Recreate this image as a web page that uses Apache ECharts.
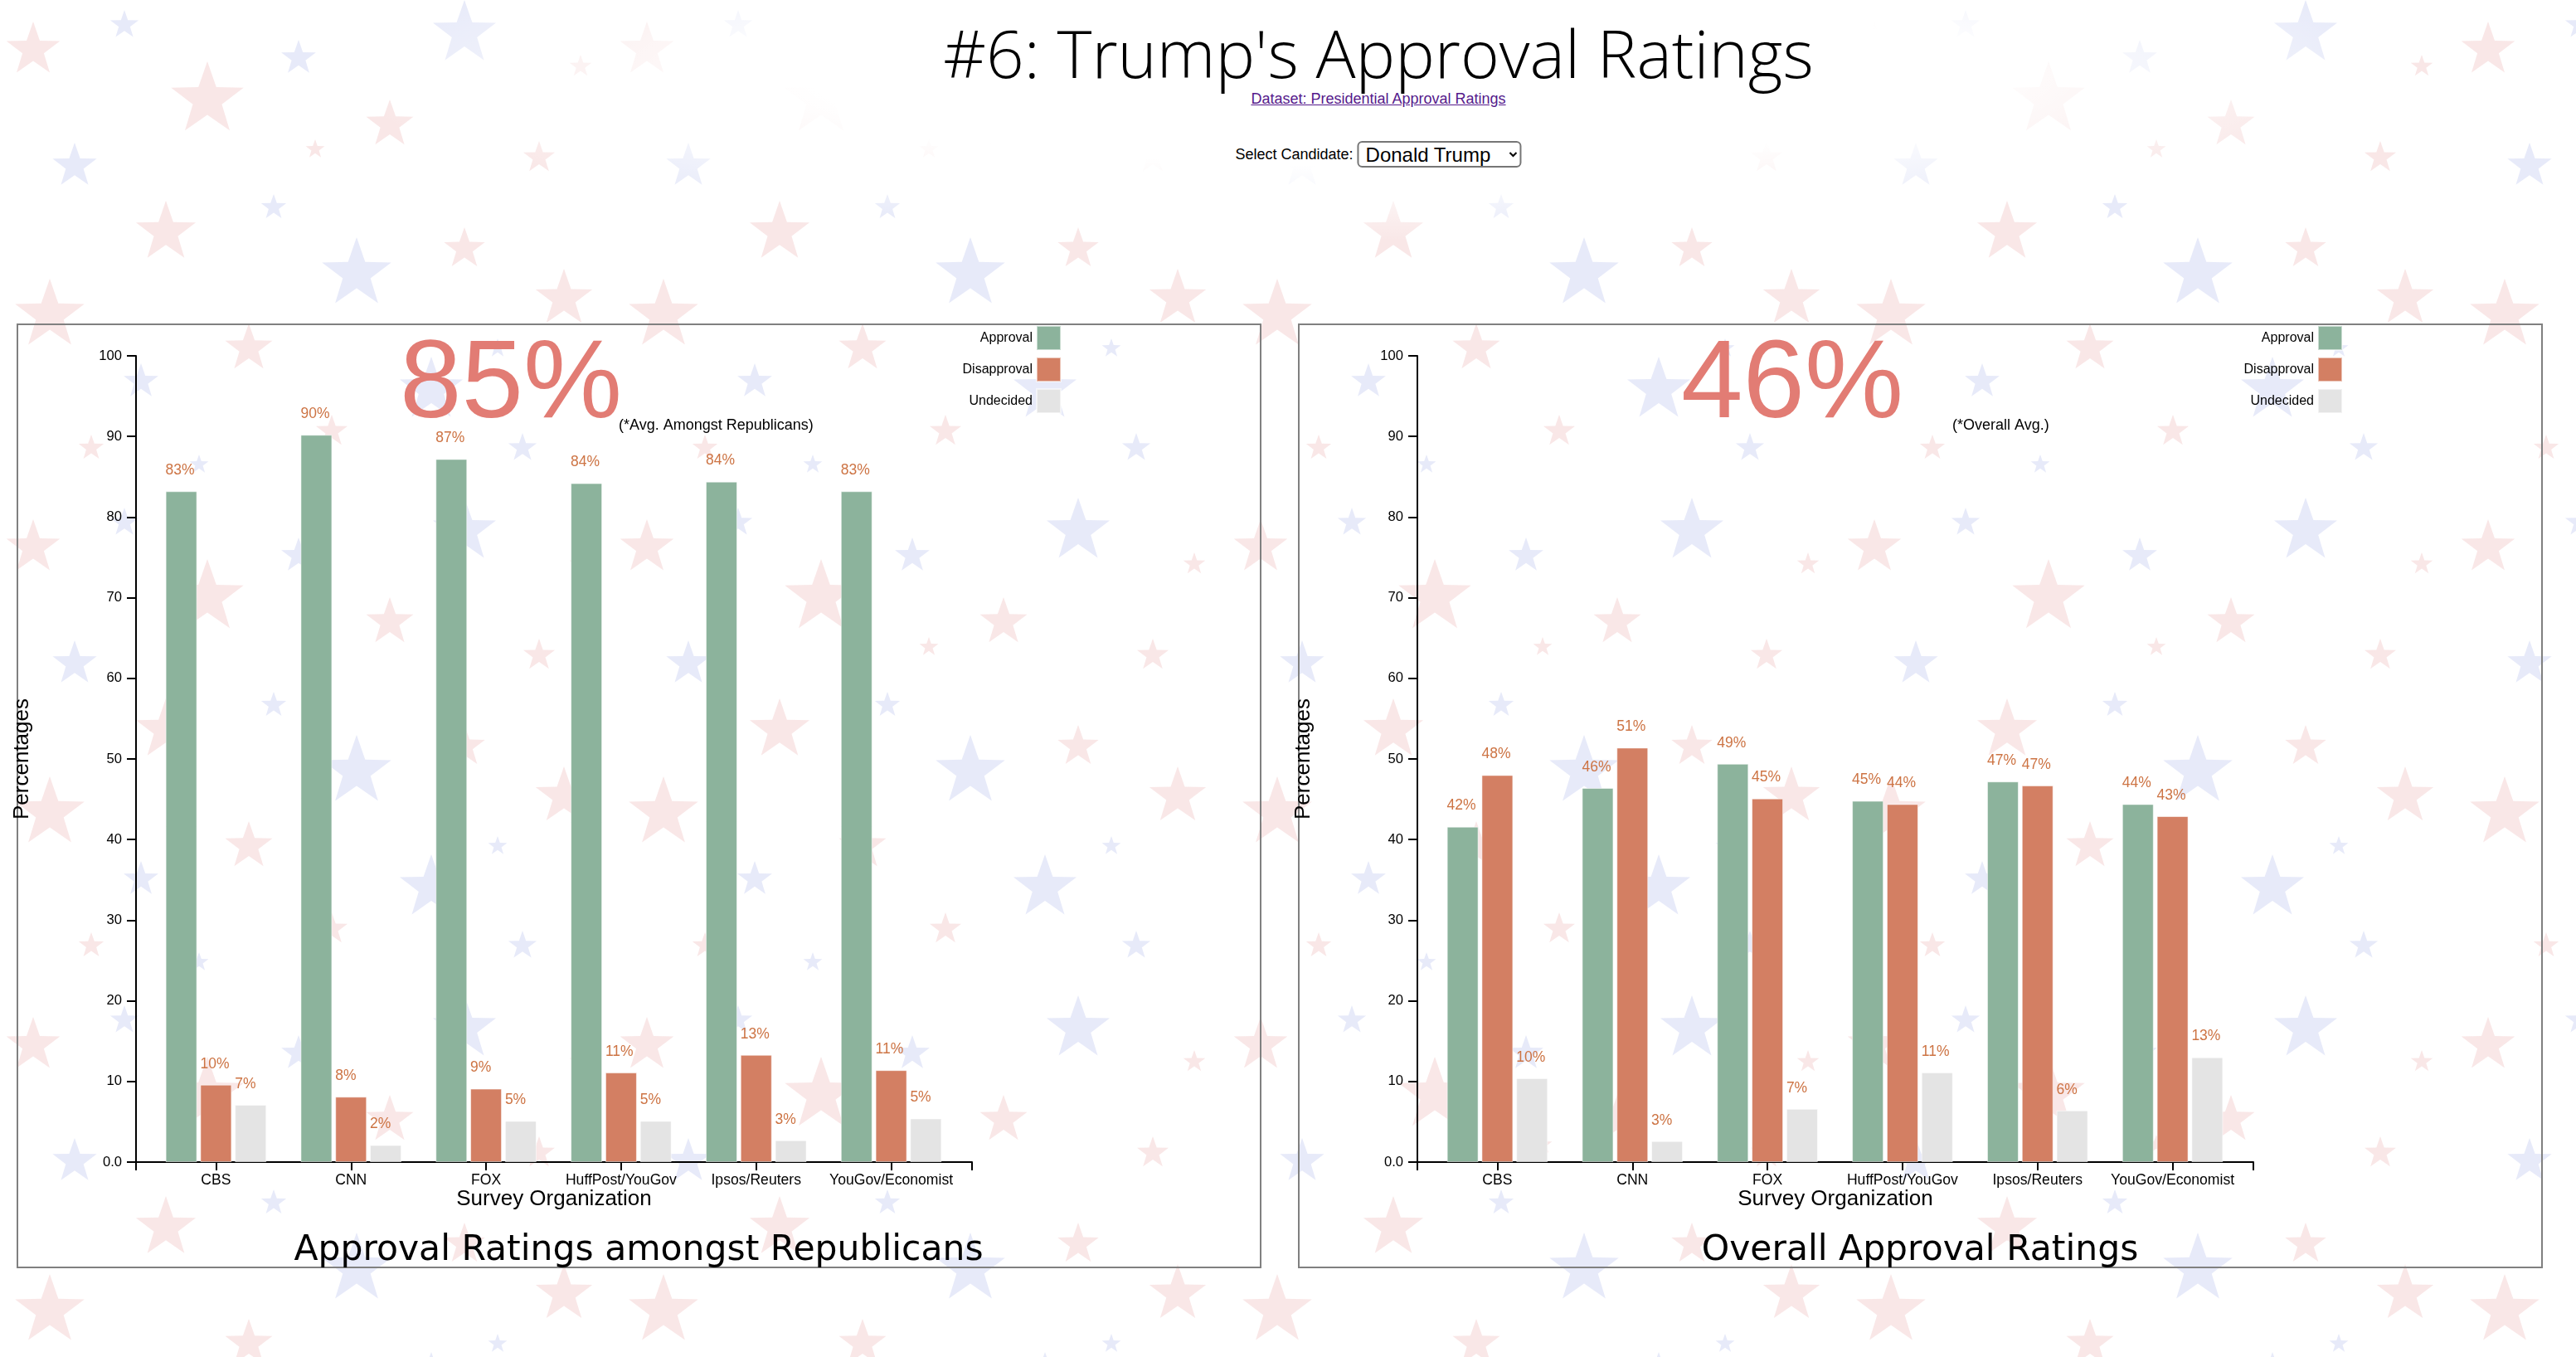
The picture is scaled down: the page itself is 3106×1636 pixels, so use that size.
<!DOCTYPE html>
<html>
<head>
<meta charset="utf-8">
<title>#6: Trump's Approval Ratings</title>
<script src="https://cdn.jsdelivr.net/npm/echarts@6/dist/echarts.min.js"></script>
<style>
  html, body { margin: 0; padding: 0; width: 3106px; height: 1636px; overflow: hidden; background-color: #fff; }
  body { font-family: "Liberation Sans", Arial, sans-serif; position: relative; }
  #fade { position: absolute; left: 0; top: 0; width: 3106px; height: 360px;
    background: radial-gradient(ellipse 1250px 200px at 1662px 90px, rgba(255,255,255,1) 55%, rgba(255,255,255,0) 100%); }
  h1 { position: absolute; left: 1662px; top: 23px; transform: translateX(-50%); margin: 0;
    font-family: "Open Sans", Lato, sans-serif; font-weight: 300; font-size: 80px; line-height: 80px; white-space: nowrap; color: #000; }
  #dataset { position: absolute; left: 1662px; top: 110px; transform: translateX(-50%); font-size: 18px; line-height: 18px;
    color: #551a8b; text-decoration: underline; white-space: nowrap; }
  #picker { position: absolute; left: 1662px; top: 170px; height: 32px; transform: translateX(-50%);
    display: flex; align-items: center; gap: 5px; white-space: nowrap; font-size: 18px; }
  #picker select { font-family: "Liberation Sans", Arial, sans-serif; font-size: 24px; width: 198px; height: 32px; padding: 0 4px;
    border: 2px solid #767676; border-radius: 6px; background: #fff; color: #000; }
  .panel { position: absolute; top: 390px; width: 1501px; height: 1139px; box-sizing: border-box; border: 2px solid #808080; }
  .chart { position: absolute; top: 390px; width: 1511px; height: 1139px; }
</style>
</head>
<body>
<div id="fade"></div>
<h1>#6: Trump's Approval Ratings</h1>
<a id="dataset" href="#">Dataset: Presidential Approval Ratings</a>
<div id="picker"><label for="candidate">Select Candidate:</label><select id="candidate"><option>Donald Trump</option></select></div>

<div class="panel" style="left:20px"></div>
<div class="panel" style="left:1565px"></div>
<div class="chart" id="chart-rep" style="left:10px"></div>
<div class="chart" id="chart-all" style="left:1555px"></div>

<script>
//--------------------- Data ---------------------------//
const organizations = ['CBS', 'CNN', 'FOX', 'HuffPost/YouGov', 'Ipsos/Reuters', 'YouGov/Economist'];
const seriesNames = ['Approval', 'Disapproval', 'Undecided'];

// amongst Republicans
const repApproval = [83.2, 90.2, 87.2, 84.2, 84.4, 83.2];
const repDisapproval = [9.6, 8.1, 9.1, 11.1, 13.3, 11.4];
const repUndecided = [7.1, 2.1, 5.1, 5.1, 2.7, 5.4];

// overall
const allApproval = [41.6, 46.4, 49.4, 44.8, 47.2, 44.4];
const allDisapproval = [48.0, 51.4, 45.1, 44.4, 46.7, 42.9];
const allUndecided = [10.4, 2.6, 6.6, 11.1, 6.4, 13.0];

const yMin = 0, yMax = 100, yStep = 10;

//--------------------- Styles ---------------------------//
const colors = ['#8cb39c', '#d37f63', '#e4e4e4'];
const labelColor = '#cd7444';
const bigColor = '#e27c74';
const font = '"Liberation Sans", Arial, sans-serif';
const barWidth = 38;
const pad = 10; // chart canvas starts 10px left of the panel border

// faint star background (decoration only)
const bgStars = [
  [40, 60, 34, 'r'], [150, 30, 18, 'b'], [250, 120, 46, 'r'], [360, 70, 22, 'b'], [470, 150, 30, 'r'],
  [560, 40, 40, 'b'], [650, 190, 20, 'r'], [90, 200, 28, 'b'], [200, 280, 38, 'r'], [330, 250, 16, 'b'],
  [430, 330, 44, 'b'], [560, 300, 26, 'r'], [680, 360, 36, 'r'], [60, 380, 44, 'r'], [170, 460, 22, 'b'],
  [300, 420, 30, 'r'], [400, 520, 20, 'r'], [520, 470, 40, 'b'], [630, 540, 18, 'b'], [110, 540, 16, 'r'],
  [240, 560, 12, 'b'], [700, 80, 14, 'r'], [380, 180, 12, 'r'], [600, 420, 12, 'b']
];

function starPath(cx, cy, r) {
  const pts = [];
  for (let i = 0; i < 10; i++) {
    const a = -Math.PI / 2 + i * Math.PI / 5;
    const rr = i % 2 === 0 ? r : r * 0.4;
    pts.push((cx + rr * Math.cos(a)).toFixed(1) + ',' + (cy + rr * Math.sin(a)).toFixed(1));
  }
  return pts.join(' ');
}

function setBackground() {
  const tileW = 740, tileH = 600;
  let svg = `<svg xmlns="http://www.w3.org/2000/svg" width="${tileW}" height="${tileH}">`;
  bgStars.forEach(([x, y, r, c]) => {
    const fill = c === 'r' ? 'rgba(205,70,70,0.13)' : 'rgba(70,95,205,0.13)';
    svg += `<polygon points="${starPath(x, y, r)}" fill="${fill}"/>`;
  });
  svg += '</svg>';
  document.body.style.backgroundImage = `url("data:image/svg+xml;utf8,${encodeURIComponent(svg)}")`;
}

//--------------------- Chart ---------------------------//
function mean(arr) {
  return arr.reduce((s, v) => s + v, 0) / arr.length;
}

function buildOption(cfg) {
  const values = [cfg.approval, cfg.disapproval, cfg.undecided];
  const grid = { top: 39, bottom: 128, outerBoundsMode: 'none', containLabel: false };
  return {
    animation: false,
    textStyle: { fontFamily: font },
    title: [
      {
        text: Math.round(mean(cfg.approval)) + '%',
        left: pad + 462, top: 9, padding: 0,
        textStyle: { fontFamily: font, fontSize: 134, fontWeight: 'normal', color: bigColor }
      },
      {
        text: cfg.note,
        left: pad + cfg.noteLeft, top: 114, padding: 0,
        textStyle: { fontFamily: font, fontSize: 18, fontWeight: 'normal', color: '#000' }
      },
      {
        text: cfg.subtitle,
        left: pad + 750, top: 1096, padding: 0, textAlign: 'center',
        textStyle: { fontFamily: '"DejaVu Sans", sans-serif', fontSize: 42.5, fontWeight: 'normal', color: '#000' }
      }
    ],
    legend: {
      data: seriesNames,
      orient: 'vertical',
      align: 'right',
      right: 241, top: 2, padding: 0,
      itemWidth: 29, itemHeight: 29, itemGap: 7,
      icon: 'rect',
      textStyle: { fontFamily: font, fontSize: 16, color: '#000' }
    },
    grid: [
      Object.assign({ left: pad + 159, right: 365 }, grid),
      Object.assign({ left: pad + 144, right: 349 }, grid)
    ],
    xAxis: [
      {
        type: 'category', gridIndex: 0, data: organizations,
        axisLine: { show: false },
        axisTick: { show: true, alignWithLabel: true, length: 10, lineStyle: { color: '#000', width: 2 } },
        axisLabel: { interval: 0, fontFamily: font, fontSize: 17.6, color: '#000', margin: 13 }
      },
      {
        type: 'value', gridIndex: 1, min: 0, max: 1, interval: 1,
        axisLine: { show: true, lineStyle: { color: '#000', width: 2 } },
        axisTick: { show: true, length: 10, lineStyle: { color: '#000', width: 2 } },
        axisLabel: { show: false },
        splitLine: { show: false },
        name: 'Survey Organization', nameLocation: 'middle', nameGap: 32,
        nameTextStyle: { fontFamily: font, fontSize: 26, color: '#000' }
      }
    ],
    yAxis: [
      { type: 'value', gridIndex: 0, min: yMin, max: yMax, interval: yStep, show: false },
      {
        type: 'value', gridIndex: 1, min: yMin, max: yMax, interval: yStep,
        axisLine: { show: true, lineStyle: { color: '#000', width: 2 } },
        axisTick: { show: true, length: 11, lineStyle: { color: '#000', width: 2 } },
        axisLabel: {
          fontFamily: font, fontSize: 16.6, color: '#000', margin: 17,
          formatter: v => (v === 0 ? '0.0' : String(v))
        },
        splitLine: { show: false },
        name: 'Percentages', nameLocation: 'middle', nameGap: 124, nameRotate: 90,
        nameTextStyle: { fontFamily: font, fontSize: 26, color: '#000' }
      }
    ],
    series: seriesNames.map((name, i) => ({
      name: name,
      type: 'bar',
      xAxisIndex: 0, yAxisIndex: 0,
      data: values[i],
      barWidth: barWidth,
      barGap: '10%',
      itemStyle: { color: colors[i], borderColor: 'rgba(255,255,255,0.55)', borderWidth: 1 },
      label: {
        show: true,
        position: 'top', distance: 16, align: 'left', offset: [-barWidth / 2, 0],
        fontFamily: font, fontSize: 17.5, color: labelColor,
        formatter: p => Math.round(p.value) + '%'
      }
    }))
  };
}

//--------------------- Main ---------------------------//
setBackground();

const repChart = echarts.init(document.getElementById('chart-rep'));
repChart.setOption(buildOption({
  approval: repApproval, disapproval: repDisapproval, undecided: repUndecided,
  note: '(*Avg. Amongst Republicans)', noteLeft: 726,
  subtitle: 'Approval Ratings amongst Republicans'
}));

const allChart = echarts.init(document.getElementById('chart-all'));
allChart.setOption(buildOption({
  approval: allApproval, disapproval: allDisapproval, undecided: allUndecided,
  note: '(*Overall Avg.)', noteLeft: 789,
  subtitle: 'Overall Approval Ratings'
}));
</script>
</body>
</html>
